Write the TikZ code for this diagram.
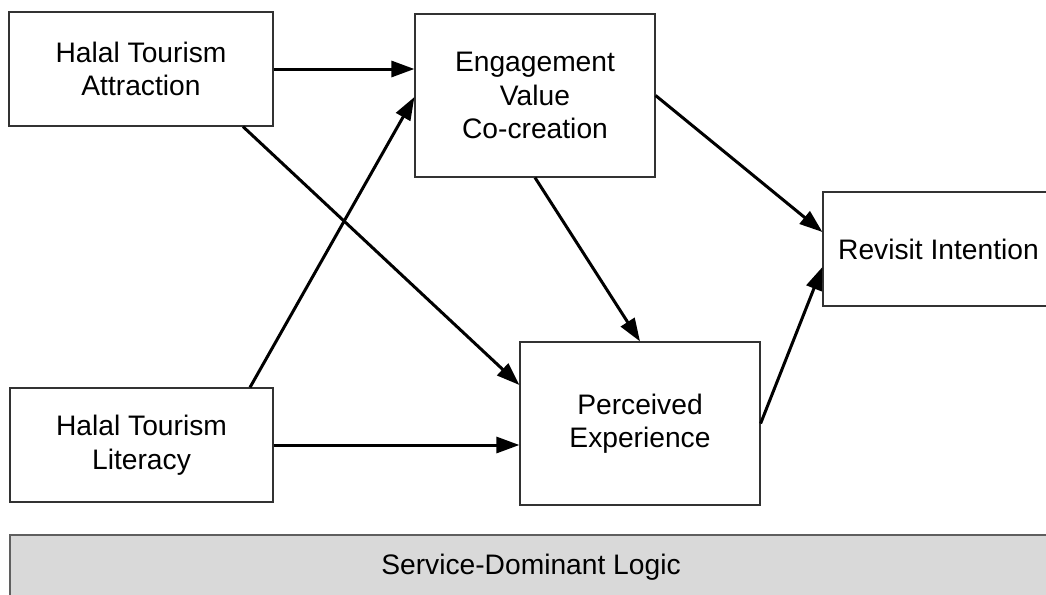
\documentclass[tikz,border=0pt]{standalone}
\usepackage{fontspec}
\setmainfont{Liberation Sans}
\usetikzlibrary{arrows.meta}
\definecolor{boxline}{RGB}{50,50,50}
\definecolor{sdlfill}{RGB}{217,217,217}
\definecolor{sdlline}{RGB}{95,95,95}
\tikzset{
    lab/.style={
        font=\fontsize{28.2}{33.5}\selectfont
    }
}
\begin{document}
\begin{tikzpicture}[x=1pt,y=-1pt, line join=miter]

% background
\clip (0,0) rectangle (1046,594);
\fill[white] (0,0) rectangle (1046,594);

\tikzset{
  cbox/.style={draw=boxline, line width=1.2pt, fill=white, lab, align=center, inner sep=0pt},
  sdlbox/.style={draw=sdlline, line width=2pt, fill=sdlfill, lab, inner sep=0pt},
  path/.style={draw=black, line width=3pt, -{Triangle[length=23pt,width=16pt]}},
}

% nodes
\node[cbox, minimum width=264pt, minimum height=114pt] (hta) at (141,69)    {Halal Tourism\\Attraction};
\node[cbox, minimum width=240pt, minimum height=163pt] (evc) at (535,95.5)  {Engagement\\Value\\Co-creation};
\node[cbox, minimum width=231pt, minimum height=114pt] (ri)  at (938.5,249) {Revisit Intention};
\node[cbox, minimum width=240pt, minimum height=163pt] (pe)  at (640,423.5) {Perceived\\Experience};
\node[cbox, minimum width=263pt, minimum height=114pt] (htl) at (141.5,445) {Halal Tourism\\Literacy};

% base layer
\node[sdlbox, minimum width=1042pt, minimum height=64pt] (sdl) at (531,567) {Service-Dominant Logic};

% paths
\draw[path] (hta.east) -- (hta.east -| evc.west);
\draw[path] ([xshift=102pt]hta.south) -- ([yshift=38.5pt]pe.west);
\draw[path] ([xshift=108.5pt]htl.north) -- ([yshift=-1.5pt]evc.west);
\draw[path] (htl.east) -- (htl.east -| pe.west);
\draw[path] (evc.south) -- (pe.north);
\draw[path] (evc.east) -- ([yshift=17pt]ri.west);
\draw[path] (pe.east) -- ([yshift=-18pt]ri.west);

\end{tikzpicture}
\end{document}
